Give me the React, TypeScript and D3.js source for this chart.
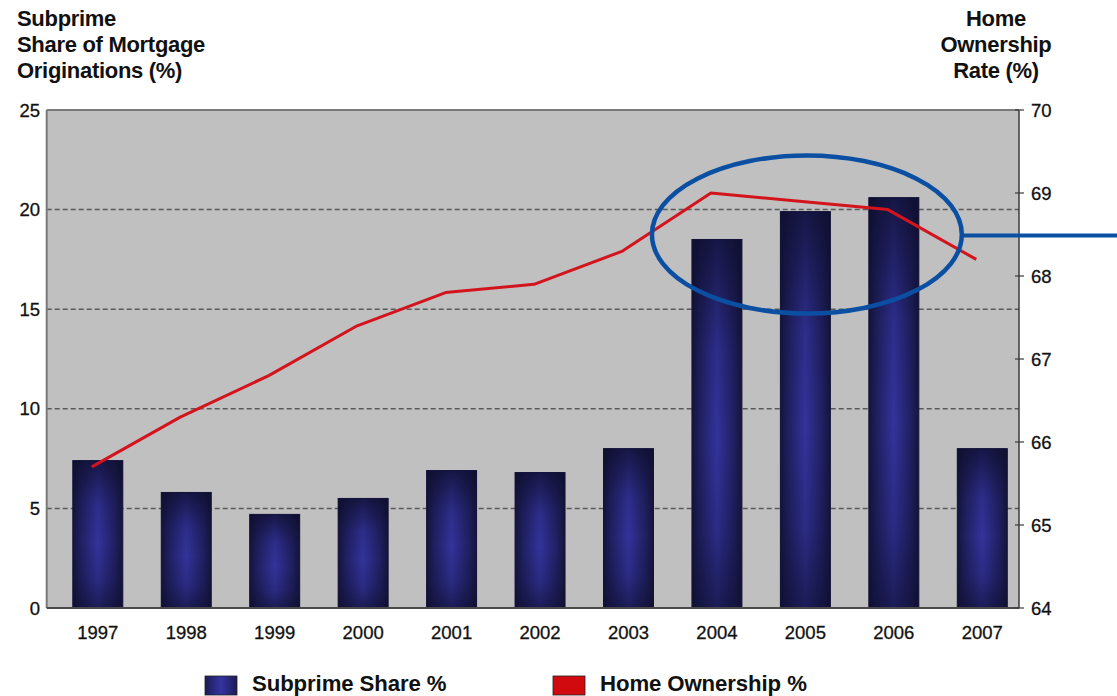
import React, { useEffect } from "react";
import * as d3 from "d3";

const years = ["1997", "1998", "1999", "2000", "2001", "2002", "2003", "2004", "2005", "2006", "2007"];
const subprimeShare = [7.4, 5.8, 4.7, 5.5, 6.9, 6.8, 8.0, 18.5, 19.9, 20.6, 8.0];
const homeOwnership = [65.7, 66.3, 66.8, 67.4, 67.8, 67.9, 68.3, 69.0, 68.9, 68.8, 68.2];
const leftTicks = [0, 5, 10, 15, 20, 25];
const gridTicks = [5, 10, 15, 20];
const rightTicks = [64, 65, 66, 67, 68, 69, 70];
const leftTitle = ["Subprime", "Share of Mortgage", "Originations (%)"];
const rightTitle = ["Home", "Ownership", "Rate (%)"];
const legendItems = [
  { label: "Subprime Share %", color: "url(#legBlue)" },
  { label: "Home Ownership %", color: "#d10a0f" },
];
const highlight = { from: "2004", to: "2006", level: 68.5 };

const W = 1117;
const H = 696;
const L = 46.7;
const R = 1019;
const T = 110;
const B = 608;
const FONT = "'Liberation Sans', Arial, Helvetica, sans-serif";

export default function App() {
  useEffect(() => {
    document.body.style.margin = "0";
  }, []);

  const x = d3
    .scaleBand<string>()
    .domain(years)
    .range([L, R])
    .paddingInner(0.435)
    .paddingOuter(0.214)
    .align(0.69);
  const yL = d3.scaleLinear().domain([0, 25]).range([B, T]);
  const yR = d3.scaleLinear().domain([64, 70]).range([B, T]);
  const bw = x.bandwidth();
  const lineShift = -6;

  const line = d3
    .line<number>()
    .x((_, i) => (x(years[i]) as number) + bw / 2 + lineShift)
    .y((d) => yR(d));

  const ex0 = (x(highlight.from) as number) - 40;
  const ex1 = (x(highlight.to) as number) + bw + 43;
  const ecx = (ex0 + ex1) / 2;
  const ecy = yR(highlight.level);
  const erx = (ex1 - ex0) / 2;
  const ery = 79;

  const tickText = { fontSize: 18.5, fill: "#111", stroke: "#111", strokeWidth: 0.3 };

  return (
    <svg width={W} height={H} style={{ display: "block", position: "absolute", left: 0, top: 0 }} fontFamily={FONT}>
      <defs>
        <linearGradient id="barH" x1="0" y1="0" x2="1" y2="0">
          <stop offset="0" stopColor="#15153a" />
          <stop offset="0.15" stopColor="#1f1f60" />
          <stop offset="0.5" stopColor="#33339c" />
          <stop offset="0.85" stopColor="#1f1f60" />
          <stop offset="1" stopColor="#15153a" />
        </linearGradient>
        <linearGradient id="barV" x1="0" y1="0" x2="0" y2="1">
          <stop offset="0" stopColor="#0d0d2a" stopOpacity="0.75" />
          <stop offset="0.3" stopColor="#0d0d2a" stopOpacity="0.15" />
          <stop offset="0.55" stopColor="#0d0d2a" stopOpacity="0" />
          <stop offset="0.8" stopColor="#0d0d2a" stopOpacity="0.2" />
          <stop offset="1" stopColor="#0d0d2a" stopOpacity="0.6" />
        </linearGradient>
        <linearGradient id="legBlue" x1="0" y1="0" x2="1" y2="0">
          <stop offset="0" stopColor="#1c1c55" />
          <stop offset="0.5" stopColor="#3434a0" />
          <stop offset="1" stopColor="#1c1c55" />
        </linearGradient>
      </defs>

      {/* plot background */}
      <rect x={L} y={T} width={R - L} height={B - T} fill="#c0c0c0" />

      {/* gridlines */}
      {gridTicks.map((t) => (
        <line
          key={t}
          x1={L}
          x2={R}
          y1={yL(t)}
          y2={yL(t)}
          stroke="#5a5a5a"
          strokeWidth={1.5}
          strokeDasharray="5 3"
        />
      ))}

      {/* bars */}
      {subprimeShare.map((v, i) => (
        <g key={years[i]}>
          <rect x={x(years[i])} y={yL(v)} width={bw} height={B - yL(v)} fill="url(#barH)" />
          <rect
            x={x(years[i])}
            y={yL(v)}
            width={bw}
            height={B - yL(v)}
            fill="url(#barV)"
            stroke="#12123a"
            strokeWidth={1}
          />
        </g>
      ))}

      {/* frame */}
      <line x1={L} x2={R} y1={T} y2={T} stroke="#7a7a7a" strokeWidth={2} />
      <line x1={L} x2={L} y1={T} y2={B} stroke="#7a7a7a" strokeWidth={2} />
      <line x1={L} x2={R} y1={B} y2={B} stroke="#4a4a4a" strokeWidth={2} />
      <line x1={R} x2={R} y1={T} y2={B} stroke="#3a3a3a" strokeWidth={1.5} />

      {/* home ownership line */}
      <path d={line(homeOwnership) || ""} fill="none" stroke="#d3141c" strokeWidth={3} strokeLinejoin="round" />

      {/* left axis labels */}
      {leftTicks.map((t) => (
        <text key={t} x={40} y={yL(t) + 6.5} textAnchor="end" {...tickText}>
          {t}
        </text>
      ))}

      {/* right axis ticks + labels */}
      {rightTicks.map((t) => (
        <g key={t}>
          <line x1={R - 4} x2={R + 5} y1={yR(t)} y2={yR(t)} stroke="#3a3a3a" strokeWidth={1.2} />
          <text x={1031} y={yR(t) + 7} textAnchor="start" {...tickText}>
            {t}
          </text>
        </g>
      ))}

      {/* x labels */}
      {years.map((yr) => (
        <text key={yr} x={(x(yr) as number) + bw / 2} y={639} textAnchor="middle" {...tickText}>
          {yr}
        </text>
      ))}

      {/* axis titles */}
      {leftTitle.map((s, i) => (
        <text key={s} x={17} y={26 + i * 26} fontSize={22} fontWeight="bold" fill="#111" letterSpacing={-0.3}>
          {s}
        </text>
      ))}
      {rightTitle.map((s, i) => (
        <text
          key={s}
          x={996}
          y={26 + i * 26}
          fontSize={22}
          fontWeight="bold"
          fill="#111"
          textAnchor="middle"
          letterSpacing={-0.3}
        >
          {s}
        </text>
      ))}

      {/* highlight ellipse */}
      <ellipse cx={ecx} cy={ecy} rx={erx} ry={ery} fill="none" stroke="#0b4fa3" strokeWidth={4.5} />
      <line x1={ecx + erx} x2={W} y1={ecy + 1} y2={ecy + 1} stroke="#0b4fa3" strokeWidth={4} />

      {/* legend */}
      {legendItems.map((it, i) => {
        const lx = i === 0 ? 205 : 553;
        return (
          <g key={it.label}>
            <rect x={lx} y={676} width={32} height={19} fill={it.color} stroke="#222" strokeWidth={0.8} />
            <text x={lx + 47} y={691} fontSize={22.2} fontWeight="bold" fill="#111" letterSpacing={-0.1}>
              {it.label}
            </text>
          </g>
        );
      })}
    </svg>
  );
}
